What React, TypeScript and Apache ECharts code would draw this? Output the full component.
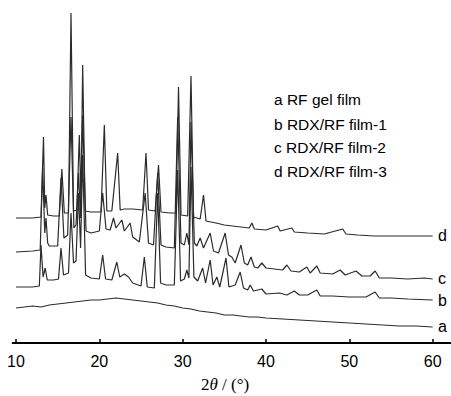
import React, { useEffect, useRef } from "react";
import * as echarts from "echarts";

// 2θ positions (deg) and intensity (arbitrary units, stacked traces)
const xTicks = [10, 20, 30, 40, 50, 60];

const traceA: [number, number][] = [
  [10, 35], [11, 36], [12, 37], [13, 36], [14, 38], [15, 39], [16, 40], [17, 41], [18, 42], [19, 43],
  [20, 43], [21, 44], [22, 45], [23, 44], [24, 43], [25, 42], [26, 41], [27, 40], [28, 38], [29, 37],
  [30, 35], [31, 34], [32, 32], [33, 31], [34, 30], [35, 28], [36, 28], [37, 27], [38, 26], [39, 26],
  [40, 25], [42, 24], [44, 23], [46, 22], [48, 21], [50, 20], [52, 19], [54, 18], [56, 17], [58, 17], [60, 16],
];

const traceB: [number, number][] = [
  [10, 56], [12, 56], [12.8, 57], [13.0, 98], [13.25, 66], [13.5, 75], [13.75, 63], [14.5, 63], [15.1, 64],
  [15.4, 95], [15.7, 68], [16.3, 70], [16.6, 130], [16.9, 80], [17.2, 82], [17.5, 150], [17.75, 95],
  [18.0, 188], [18.35, 68], [19, 65], [20.0, 64], [20.4, 88], [20.75, 64], [21.5, 63], [22.1, 81],
  [22.45, 66], [23.0, 69], [23.5, 66], [24.0, 60], [25.0, 57], [25.4, 86], [25.75, 56], [26.6, 55],
  [27.0, 150], [27.35, 60], [28.0, 58], [29.0, 58], [29.4, 173], [29.75, 62], [30.2, 64], [30.5, 73],
  [30.75, 65], [31.0, 176], [31.35, 66], [31.8, 62], [32.4, 75], [32.75, 60], [33.3, 83], [33.65, 58],
  [34.1, 66], [34.45, 56], [35.2, 85], [35.55, 56], [36.3, 58], [36.9, 71], [37.3, 55], [37.8, 53],
  [38.1, 58], [38.5, 52], [39.5, 54], [40, 49], [41.6, 50], [42.5, 48], [43.4, 52], [44, 48], [45, 48],
  [46.1, 53], [46.5, 47], [48, 47], [50, 46], [52, 46], [53.1, 51], [53.6, 45], [55, 45], [57, 44], [60, 43],
];

const traceC: [number, number][] = [
  [10, 91], [12, 92], [12.9, 93], [13.2, 175], [13.45, 110], [13.6, 125], [13.8, 100], [14, 97], [15, 97],
  [15.4, 165], [15.75, 105], [16.2, 108], [16.6, 226], [16.95, 115], [17.2, 118], [17.5, 170], [17.75, 125],
  [18.0, 228], [18.4, 112], [19, 110], [20, 112], [20.4, 150], [20.8, 114], [21.3, 113], [21.7, 125],
  [22.0, 115], [22.7, 123], [23.0, 112], [23.7, 120], [24.0, 106], [24.8, 101], [25.5, 150], [25.9, 100],
  [26.5, 98], [27.0, 170], [27.4, 98], [28.0, 96], [29.0, 95], [29.4, 226], [29.8, 100], [30.2, 98],
  [30.5, 110], [30.75, 98], [31.0, 221], [31.4, 100], [31.7, 97], [32.1, 105], [32.5, 95], [33.3, 110],
  [33.7, 92], [34.3, 90], [35.1, 110], [35.5, 88], [35.9, 86], [36.3, 80], [37.0, 98], [37.4, 80],
  [37.8, 78], [38.2, 86], [38.6, 76], [39.0, 75], [39.5, 80], [40, 75], [41, 74], [42, 73], [42.5, 78],
  [43, 72], [44, 71], [44.9, 76], [45.3, 70], [46.1, 77], [46.5, 70], [48, 69], [48.9, 73], [49.5, 68],
  [50.8, 72], [51.5, 67], [52.5, 67], [53.1, 72], [53.6, 65], [55, 65], [57, 64], [59, 65], [60, 64],
];

const traceD: [number, number][] = [
  [10, 125], [12, 125], [13.0, 126], [13.3, 206], [13.45, 135], [13.6, 148], [13.8, 128], [14.5, 127],
  [15.2, 127], [15.5, 174], [15.8, 130], [16.3, 130], [16.6, 330], [16.9, 132], [17.3, 133], [17.6, 208],
  [17.8, 140], [18.0, 278], [18.3, 132], [19, 131], [20.2, 131], [20.6, 218], [20.9, 132], [21.5, 132],
  [22.2, 190], [22.5, 133], [23, 134], [24, 134], [25.2, 133], [25.6, 190], [25.9, 133], [26.7, 132],
  [27.1, 178], [27.4, 131], [28.5, 130], [29.2, 130], [29.5, 256], [29.8, 128], [30.6, 127], [31.0, 267],
  [31.3, 126], [32.1, 124], [32.5, 148], [32.8, 122], [34, 120], [35, 118], [36, 117], [37, 116], [38, 115],
  [38.3, 120], [38.6, 114], [40, 113], [41.4, 117], [41.7, 112], [43.1, 115], [43.4, 111], [45, 110],
  [47, 109], [49.2, 114], [49.6, 109], [51, 108], [53, 107], [55, 107], [57, 107], [60, 107],
];

const traceNames = ["a", "b", "c", "d"];
const legendLines = ["a RF gel film", "b RDX/RF film-1", "c RDX/RF film-2", "d RDX/RF film-3"];

export default function App() {
  const ref = useRef<HTMLDivElement>(null);
  useEffect(() => {
    if (!ref.current) return;
    const chart = echarts.init(ref.current, null, { renderer: "svg" });
    const traces = [traceA, traceB, traceC, traceD];
    const labelY = [327, 301, 279, 236];
    const legendY = [100, 125, 148, 172];
    const lineColor = "#2b2b2b";
    chart.setOption({
      animation: false,
      backgroundColor: "#ffffff",
      grid: { left: 12.67, right: 0, top: 0, bottom: 53 },
      xAxis: {
        type: "value",
        min: 9.6,
        max: 62.2,
        splitLine: { show: false },
        axisLine: { show: true, lineStyle: { color: "#000", width: 2 } },
        axisTick: { show: true, inside: true, length: 4, customValues: xTicks, lineStyle: { color: "#000", width: 1.5 } },
        axisLabel: {
          customValues: xTicks,
          margin: 10,
          fontSize: 16,
          fontFamily: "Liberation Sans, Arial, sans-serif",
          color: "#000",
        },
      },
      yAxis: { type: "value", min: 0, max: 343, show: false },
      series: traces.map((d, i) => ({
        name: traceNames[i],
        type: "line",
        data: d,
        showSymbol: false,
        symbol: "none",
        lineStyle: { color: lineColor, width: 1.2 },
      })),
      graphic: [
        ...legendLines.map((t, i) => ({
          type: "text",
          left: 274,
          top: legendY[i] - 9,
          style: { text: t, fontSize: 15.5, fontFamily: "Liberation Sans, Arial, sans-serif", fill: "#000" },
        })),
        ...traceNames.map((t, i) => ({
          type: "text",
          left: 438,
          top: labelY[i] - 9,
          style: { text: t, fontSize: 16, fontFamily: "Liberation Sans, Arial, sans-serif", fill: "#000" },
        })),
        {
          type: "text",
          left: 201,
          top: 376,
          style: {
            text: "2{i|θ} / (°)",
            fontSize: 17,
            fontFamily: "Liberation Serif, Times New Roman, serif",
            fill: "#000",
            rich: {
              i: { fontSize: 17, fontStyle: "italic", fontFamily: "Liberation Serif, Times New Roman, serif", fill: "#000" },
            },
          },
        },
      ],
    });
    return () => chart.dispose();
  }, []);
  return <div ref={ref} style={{ width: 451, height: 396, position: "absolute", left: 0, top: 0 }} />;
}
